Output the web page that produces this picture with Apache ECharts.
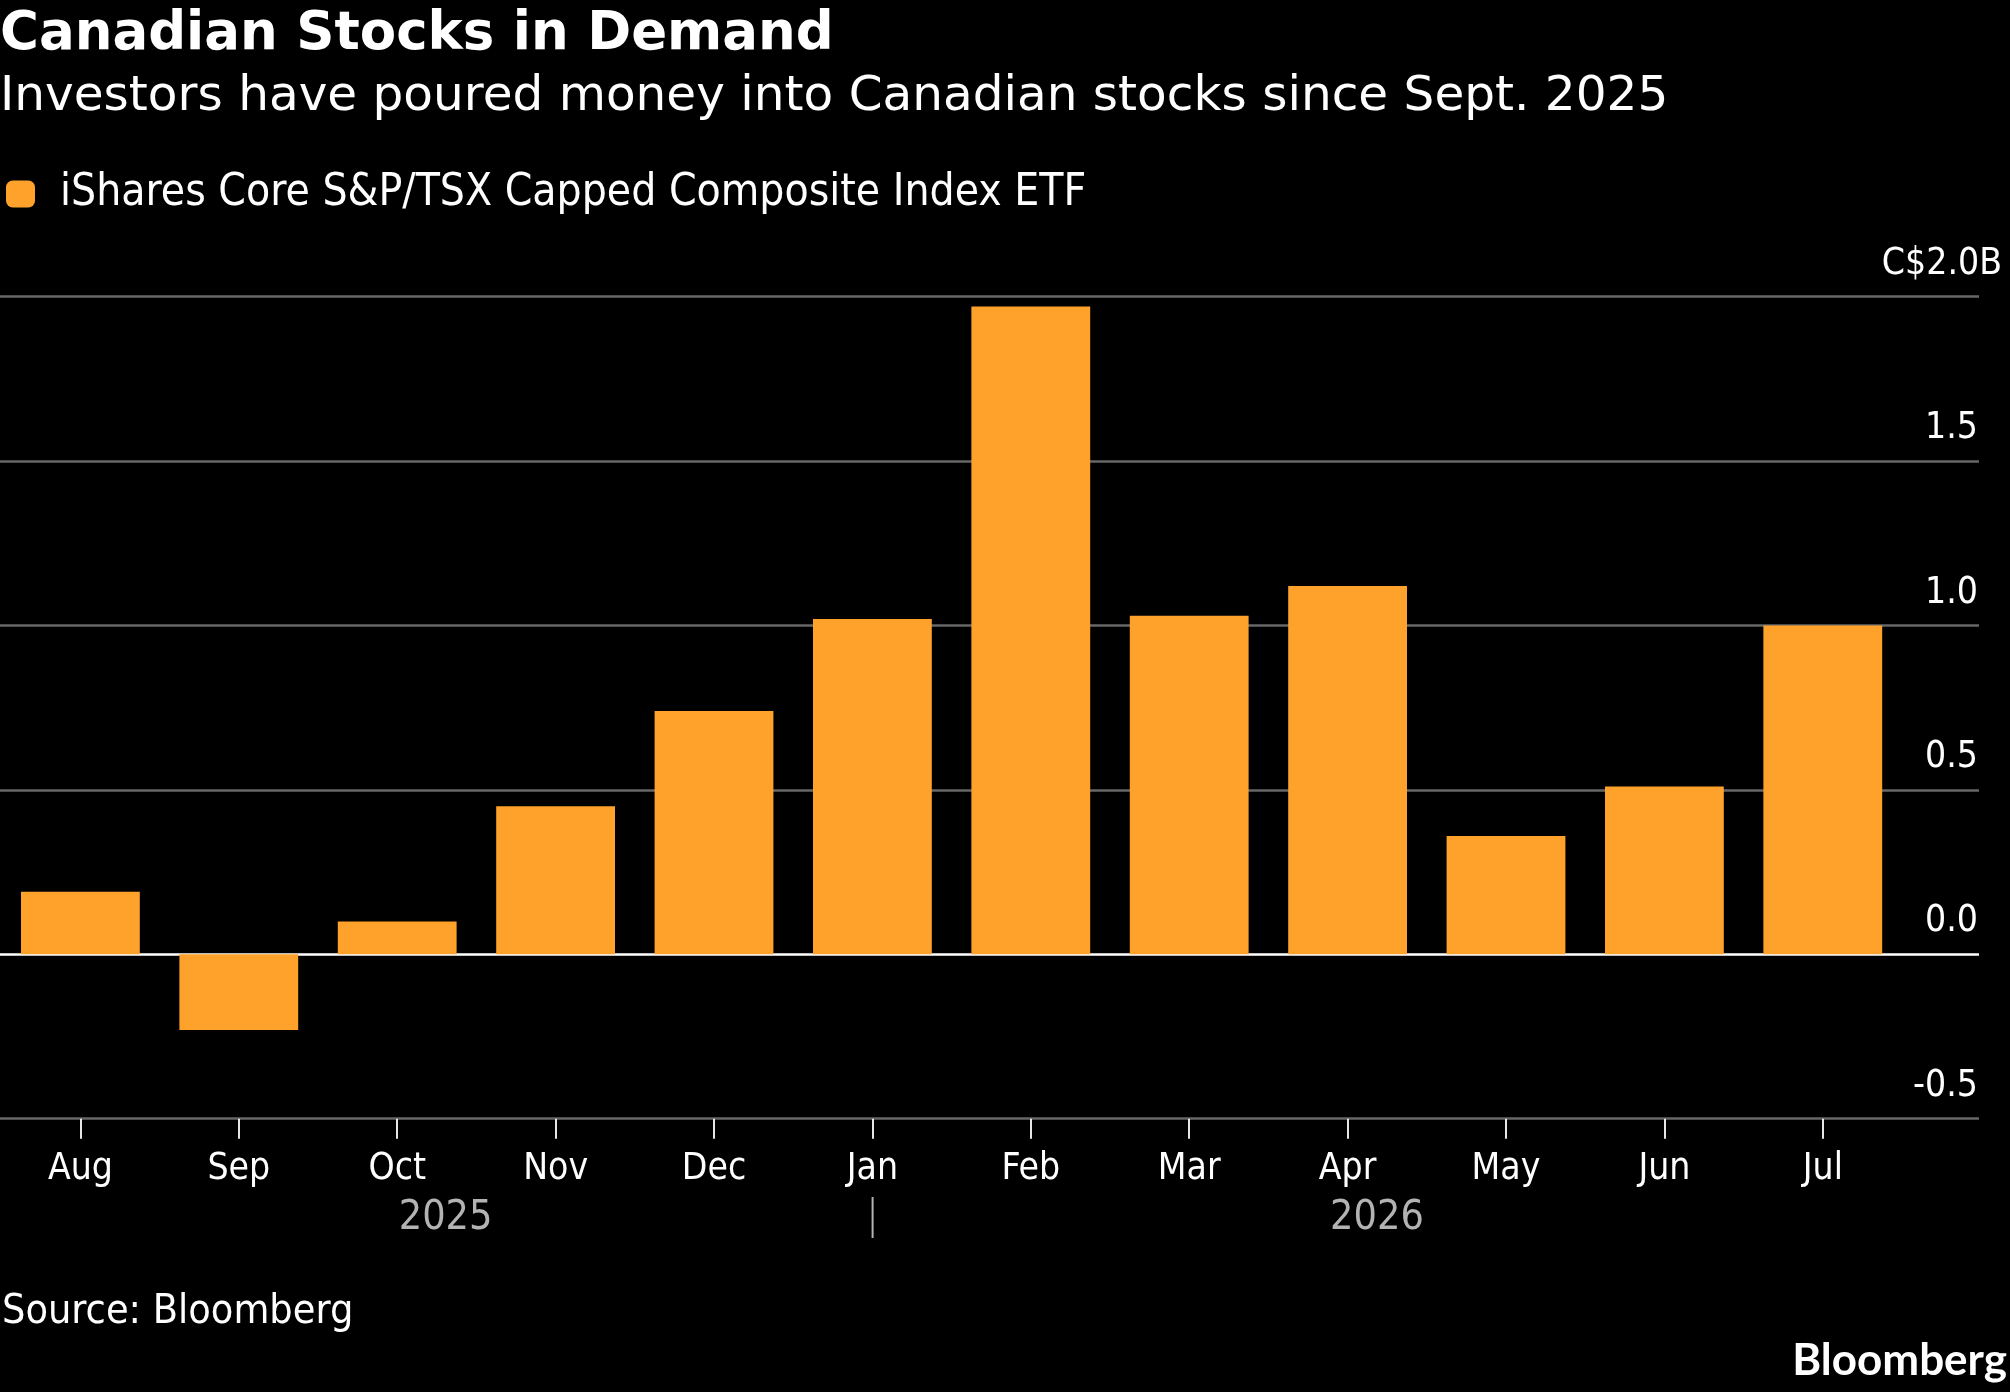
<!DOCTYPE html>
<html>
<head>
<meta charset="utf-8">
<script src="https://cdn.jsdelivr.net/npm/echarts@6/dist/echarts.min.js"></script>
<style>
  html, body { margin: 0; padding: 0; background: #000; }
  #chart { width: 2010px; height: 1392px; }
</style>
</head>
<body>
<div id="chart"></div>
<script>
// ---- data ----
const months = ['Aug', 'Sep', 'Oct', 'Nov', 'Dec', 'Jan', 'Feb', 'Mar', 'Apr', 'May', 'Jun', 'Jul'];
const flows = [0.19, -0.23, 0.10, 0.45, 0.74, 1.02, 1.97, 1.03, 1.12, 0.36, 0.51, 1.00];
const seriesName = 'iShares Core S&P/TSX Capped Composite Index ETF';
const years = ['2025', '2026'];
const yMin = -0.5, yMax = 2.0, yStep = 0.5;
const titleText = 'Canadian Stocks in Demand';
const subtitleText = 'Investors have poured money into Canadian stocks since Sept. 2025';
const sourceText = 'Source: Bloomberg';
const logoText = 'Bloomberg';

// ---- styling ----
const ORANGE = '#FFA22B';
const REG = '"DejaVu Sans", Verdana, sans-serif';
const COND = '"DejaVu Sans Condensed", "DejaVu Sans", sans-serif';
const plotTop = 296.7, plotH = 822;
const GRID_GREY = '#676767';

const chart = echarts.init(document.getElementById('chart'), null, { renderer: 'canvas' });

const option = {
  backgroundColor: '#000',
  animation: false,
  legend: {
    data: [seriesName],
    left: 1,
    top: 167,
    icon: 'roundRect',
    itemWidth: 29,
    itemHeight: 27,
    textStyle: { color: '#fff', fontSize: 44, fontFamily: COND, padding: [0, 0, 0, 20] }
  },
  grid: [
    { left: 1.2, top: plotTop, width: 1900.8, height: plotH },
    { left: 0, top: plotTop, width: 1979, height: plotH }
  ],
  xAxis: [
    {
      gridIndex: 0, type: 'category', data: months,
      axisLine: { show: false, onZero: false },
      axisTick: { show: true, alignWithLabel: true, length: 20, lineStyle: { color: '#e6e6e6', width: 2 } },
      axisLabel: { color: '#fff', fontSize: 37, fontFamily: COND, margin: 32 },
      splitLine: { show: false }
    },
    { gridIndex: 1, type: 'value', show: false, min: 0, max: 1 }
  ],
  yAxis: [
    { gridIndex: 0, type: 'value', min: yMin, max: yMax, interval: yStep, show: false },
    {
      gridIndex: 1, type: 'value', min: yMin, max: yMax, interval: yStep, position: 'right',
      axisLine: { show: false }, axisTick: { show: false },
      splitLine: { show: true, lineStyle: { color: [GRID_GREY, '#ffffff', GRID_GREY, GRID_GREY, GRID_GREY, GRID_GREY], width: 2.5 } },
      axisLabel: {
        inside: true, margin: -23, verticalAlign: 'bottom', padding: [0, 0, 14, 0],
        color: '#fff', fontSize: 37, fontFamily: COND,
        formatter: function (v) {
          if (Math.abs(v - yMax) < 1e-9) return '{n|C$' + v.toFixed(1) + 'B}';
          return '{n|' + v.toFixed(1) + '}{s| }';
        },
        rich: {
          n: { color: '#fff', fontSize: 37, fontFamily: COND },
          s: { width: 24, fontSize: 37, fontFamily: COND }
        }
      }
    }
  ],
  series: [{
    name: seriesName,
    type: 'bar',
    xAxisIndex: 0, yAxisIndex: 0,
    data: flows,
    barCategoryGap: '25%',
    itemStyle: { color: ORANGE }
  }],
  graphic: [
    { type: 'text', left: 0, top: 9, style: { text: titleText, fill: '#fff', font: 'bold 53px ' + REG } },
    { type: 'text', left: 0, top: 73, style: { text: subtitleText, fill: '#fff', font: '48.5px ' + REG } },
    { type: 'text', x: 445.6, y: 1198, style: { text: years[0], fill: '#b3b3b3', font: '41px ' + COND, textAlign: 'center' } },
    { type: 'text', x: 1377, y: 1198, style: { text: years[1], fill: '#b3b3b3', font: '41px ' + COND, textAlign: 'center' } },
    { type: 'line', shape: { x1: 872.6, y1: 1197, x2: 872.6, y2: 1238 }, style: { stroke: '#b3b3b3', lineWidth: 2 } },
    { type: 'text', left: 2, top: 1292, style: { text: sourceText, fill: '#fff', font: '41px ' + COND } },
    { type: 'text', right: 3, top: 1339, style: { text: logoText, fill: '#fff', font: 'bold 44px Lato, ' + REG } }
  ]
};
chart.setOption(option);
</script>
</body>
</html>
